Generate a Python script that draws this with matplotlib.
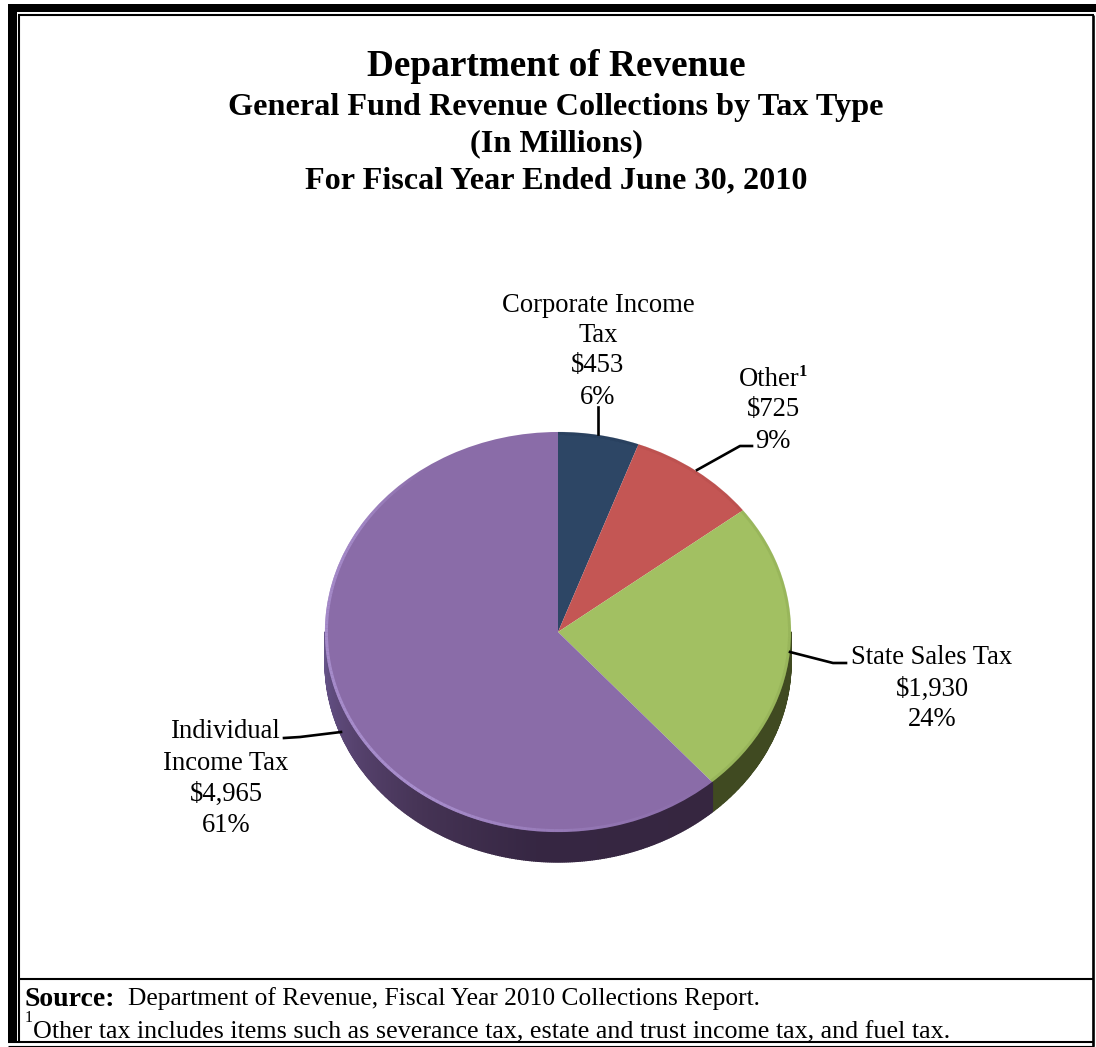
import numpy as np
import matplotlib
matplotlib.use('Agg')
import matplotlib.pyplot as plt
from matplotlib.collections import PolyCollection, LineCollection

categories = ['Corporate Income Tax', 'Other', 'State Sales Tax', 'Individual Income Tax']
amounts = [453, 725, 1930, 4965]
percents = [6, 9, 24, 61]
top_colors = ['#2d4665', '#c45654', '#a2c062', '#8a6ca8']
rim_colors = ['#263b56', '#b04b4a', '#84a04c', '#a98fce']

W, H = 1096, 1047
plt.rcParams['font.family'] = ['Liberation Serif', 'DejaVu Serif']

fig = plt.figure(figsize=(W / 100, H / 100), dpi=100, facecolor='white')

# pie centre and radii in pixels, the axes keeps the ellipse squashed
cx, cy, rx, ry = 558, 632, 233, 200
span = 1.3
ax = fig.add_axes([(cx - span * rx) / W, 1 - (cy + span * ry) / H,
                   2 * span * rx / W, 2 * span * ry / H])
ax.pie(amounts, colors=top_colors, startangle=90, counterclock=False, radius=1,
       wedgeprops={'linewidth': 0, 'antialiased': True, 'zorder': 3})
ax.set_xlim(-span, span)
ax.set_ylim(-span, span)
ax.set_aspect('auto')
ax.axis('off')

# slice edges as clockwise angles from twelve o'clock
edges = np.concatenate([[0], np.cumsum(amounts)]) / sum(amounts) * 360


def point(theta, drop=0.0):
    t = np.radians(theta)
    return np.sin(t), np.cos(t) - drop


def side_color(theta):
    # green wall is flat, purple wall gets lighter towards the left
    if theta < edges[3]:
        return (0.25, 0.29, 0.13)
    stops = [edges[3], 185, 215, 245, 270]
    r = np.interp(theta, stops, [0.21, 0.21, 0.27, 0.35, 0.40])
    g = np.interp(theta, stops, [0.15, 0.15, 0.20, 0.27, 0.33])
    b = np.interp(theta, stops, [0.25, 0.26, 0.33, 0.45, 0.54])
    return (r, g, b)


# side wall of the disc, visible on the lower half only
depth = 30 / ry
angles = np.arange(90, 270.5, 0.5)
quads = []
quad_colors = []
for a0, a1 in zip(angles[:-1], angles[1:]):
    quads.append([point(a0), point(a1), point(a1, depth), point(a0, depth)])
    quad_colors.append(side_color((a0 + a1) / 2))
ax.add_collection(PolyCollection(quads, facecolors=quad_colors, edgecolors=quad_colors,
                                 linewidths=1.0, zorder=2))

# lighter bevel just inside the rim of each slice
for i in range(len(amounts)):
    th = np.linspace(edges[i], edges[i + 1], 200)
    x, y = point(th)
    segs = [[(x[j] * 0.994, y[j] * 0.993), (x[j + 1] * 0.994, y[j + 1] * 0.993)] for j in range(199)]
    if i == 3:
        # bevel only shows on the lower left of the big slice
        alpha = np.interp(th, [edges[3], 175, 215, 300, 325], [0.0, 0.35, 1.0, 0.8, 0.0])
    else:
        alpha = np.full(199 + 1, 0.3)
    ax.add_collection(LineCollection(segs, colors=rim_colors[i], linewidths=2.2,
                                     alpha=alpha[:-1], zorder=4))

# overlay in pixel coordinates for frame, labels and leaders
ov = fig.add_axes([0, 0, 1, 1], facecolor='none')
ov.set_xlim(0, W)
ov.set_ylim(H, 0)
ov.axis('off')

ov.fill_between([8, 16.5], 4, 1042, color='black', lw=0)
ov.fill_between([8, 1096], 4, 12, color='black', lw=0)
for xs, ys, lw in [([19, 19], [15, 1042], 1.5),
                   ([18, 1093.5], [15, 15], 1.5),
                   ([1093, 1093], [15, 1046], 1.9),
                   ([8, 1094], [1042, 1042], 1.5),
                   ([8, 1094], [1045.5, 1045.5], 0.8),
                   ([18, 1094], [979, 979], 1.5)]:
    ov.plot(xs, ys, color='black', lw=lw, solid_capstyle='butt')

title_lines = [('Department of Revenue', 67, 26.8),
               ('General Fund Revenue Collections by Tax Type', 108, 23.2),
               ('(In Millions)', 144, 23.2),
               ('For Fiscal Year Ended June 30, 2010', 181, 23.2)]
for txt, y, size in title_lines:
    ov.text(556, y, txt, ha='center', va='center', fontsize=size, fontweight='bold')

label_size = 19.2
label_rows = [(598, [(305, 'Corporate Income'), (335, 'Tax'),
                     (366, f'${amounts[0]:,}'), (397, f'{percents[0]}%')]),
              (773, [(409, f'${amounts[1]:,}'), (441, f'{percents[1]}%')]),
              (932, [(658, 'State Sales Tax'), (689, f'${amounts[2]:,}'), (720, f'{percents[2]}%')]),
              (226, [(732, 'Individual'), (763, 'Income Tax'),
                     (794, f'${amounts[3]:,}'), (825, f'{percents[3]}%')])]
for x, rows in label_rows:
    for y, txt in rows:
        ov.text(x, y, txt, ha='center', va='center', fontsize=label_size)
ov.text(769, 379, 'Other', ha='center', va='center', fontsize=label_size)
ov.text(799, 372, '1', ha='left', va='center', fontsize=12, fontweight='bold')

# leader lines from labels to slices
leaders = [([598, 598], [407, 434]),
           ([697, 740, 752], [470, 446, 446]),
           ([790, 833, 846], [652, 663, 663]),
           ([284, 300, 341], [738, 737, 732])]
for xs, ys in leaders:
    ov.plot(xs, ys, color='black', lw=1.9, solid_joinstyle='round')

# footer
ov.text(24, 999, 'Source:', ha='left', va='center', fontsize=20, fontweight='bold')
ov.text(128, 999, 'Department of Revenue, Fiscal Year 2010 Collections Report.',
        ha='left', va='center', fontsize=18.4)
ov.text(25, 1018, '1', ha='left', va='center', fontsize=11.5)
ov.text(33, 1032, 'Other tax includes items such as severance tax, estate and trust income tax, and fuel tax.',
        ha='left', va='center', fontsize=18.7)

fig.savefig('out.png', dpi=100)
